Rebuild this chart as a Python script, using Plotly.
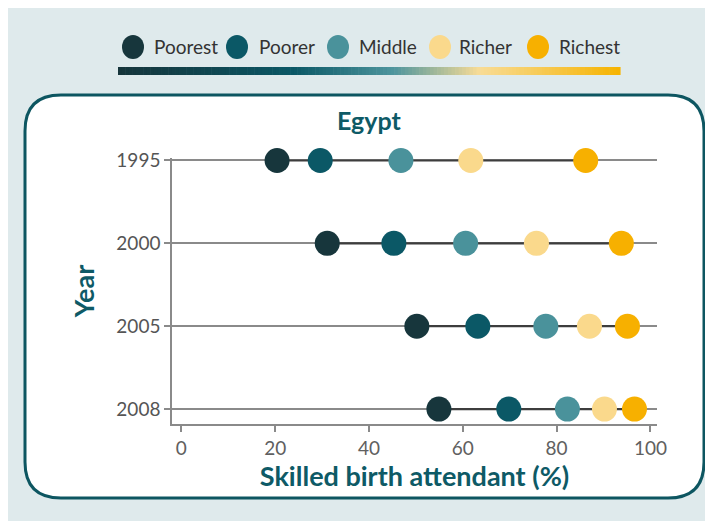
import plotly.graph_objects as go

# ---- data ----
years = ["1995", "2000", "2005", "2008"]
tiers = ["Poorest", "Poorer", "Middle", "Richer", "Richest"]
poorest = [20.4, 31.1, 50.2, 54.9]
poorer = [29.6, 45.3, 63.2, 69.8]
middle = [46.8, 60.6, 77.7, 82.3]
richer = [61.7, 75.7, 87.0, 90.2]
richest = [86.2, 93.8, 95.1, 96.6]
x_ticks = [0, 20, 40, 60, 80, 100]

series = [poorest, poorer, middle, richer, richest]
colors = ["#17363c", "#0b5866", "#4a929b", "#fad98c", "#f7b000"]
teal = "#0e5a66"
ypos = [3, 2, 1, 0]  # 1995 at top

W, H = 713, 521
OFF = 8  # page body margin
L, R, T, B = 172, 657, 158, 424  # plot area in page pixels
FONT = "Lato, 'Open Sans', sans-serif"


def px(x):
    return (x - L) / (R - L)


def py(y):
    return (B - y) / (B - T)


fig = go.Figure()

# connector lines between min and max per year
for i, yv in enumerate(ypos):
    vals = [s[i] for s in series]
    fig.add_trace(go.Scatter(x=[min(vals), max(vals)], y=[yv, yv], mode="lines",
                             line=dict(color="#3d3d3d", width=2.2),
                             hoverinfo="skip", showlegend=False))

for name, vals, c in zip(tiers, series, colors):
    fig.add_trace(go.Scatter(x=vals, y=ypos, mode="markers", name=name,
                             marker=dict(color=c, size=25, line=dict(width=0)),
                             cliponaxis=False, showlegend=False))

shapes = []

# rounded white box
bx0, bx1, by0, by1, rad = 25, 704, 95, 498, 36
rx = rad / (R - L)
ry = rad / (B - T)
X0, X1, Y0, Y1 = px(bx0), px(bx1), py(by0), py(by1)
path = (f"M {X0 + rx},{Y0} L {X1 - rx},{Y0} Q {X1},{Y0} {X1},{Y0 - ry} "
        f"L {X1},{Y1 + ry} Q {X1},{Y1} {X1 - rx},{Y1} "
        f"L {X0 + rx},{Y1} Q {X0},{Y1} {X0},{Y1 + ry} "
        f"L {X0},{Y0 - ry} Q {X0},{Y0} {X0 + rx},{Y0} Z")
shapes.append(dict(type="path", path=path, xref="paper", yref="paper", layer="below",
                   fillcolor="white", line=dict(color="#0d5661", width=3)))


# gradient bar
def hex2rgb(h):
    h = h.lstrip("#")
    return [int(h[i:i + 2], 16) for i in (0, 2, 4)]


stops = [(0.0, "#16353b"), (0.35, "#0b5866"), (0.55, "#4f969e"),
         (0.72, "#f8dc96"), (1.0, "#f6b300")]


def grad(t):
    for (t0, c0), (t1, c1) in zip(stops[:-1], stops[1:]):
        if t0 <= t <= t1:
            f = (t - t0) / (t1 - t0)
            a, b = hex2rgb(c0), hex2rgb(c1)
            return "rgb(%d,%d,%d)" % tuple(round(a[k] + (b[k] - a[k]) * f) for k in range(3))
    return stops[-1][1]


gx0, gx1, gy0, gy1 = 118, 620, 67, 75
n = 140
for k in range(n):
    a = gx0 + (gx1 - gx0) * k / n
    b = gx0 + (gx1 - gx0) * (k + 1) / n + 0.6
    shapes.append(dict(type="rect", xref="paper", yref="paper",
                       x0=px(a), x1=px(b), y0=py(gy0), y1=py(gy1),
                       fillcolor=grad((k + 0.5) / n), line=dict(width=0)))

annotations = []
# legend
leg_cx = [133, 237, 338, 440, 538]
leg_tx = [152, 257, 357, 457, 557]
for name, c, cx, tx in zip(tiers, colors, leg_cx, leg_tx):
    shapes.append(dict(type="circle", xref="paper", yref="paper",
                       x0=px(cx - 11), x1=px(cx + 11), y0=py(35), y1=py(59),
                       fillcolor=c, line=dict(width=0)))
    annotations.append(dict(text=name, xref="paper", yref="paper",
                            x=px(tx), y=py(47), xanchor="left", yanchor="middle",
                            showarrow=False, font=dict(family=FONT, size=19, color="#333333")))

annotations.append(dict(text="<b>Egypt</b>", xref="paper", yref="paper",
                        x=px(369), y=py(120), xanchor="center", yanchor="middle",
                        showarrow=False, font=dict(family=FONT, size=25, color=teal)))

fig.update_layout(
    width=W, height=H,
    margin=dict(l=L - OFF, r=W - (R - OFF), t=T - OFF, b=H - (B - OFF)),
    paper_bgcolor="#dfeaec", plot_bgcolor="rgba(0,0,0,0)",
    shapes=shapes, annotations=annotations, showlegend=False,
    font=dict(family=FONT),
)

fig.update_xaxes(range=[-2, 101.4], tickvals=x_ticks, showgrid=False, zeroline=False,
                 showline=True, linecolor="#8a8a8a", linewidth=1.5,
                 ticks="outside", ticklen=6, tickcolor="#8a8a8a", tickwidth=1.5,
                 tickfont=dict(family=FONT, size=19, color="#606060"),
                 title=dict(text="<b>Skilled birth attendant (%)</b>", standoff=10,
                            font=dict(family=FONT, size=27, color=teal)))

fig.update_yaxes(range=[-0.18, 3.03], tickvals=ypos, ticktext=years,
                 showgrid=True, gridcolor="#8a8a8a", gridwidth=1.5, zeroline=False,
                 showline=True, linecolor="#8a8a8a", linewidth=1.5,
                 ticks="outside", ticklen=6, tickcolor="#8a8a8a", tickwidth=1.5,
                 tickfont=dict(family=FONT, size=19, color="#555555"),
                 title=dict(text="<b>Year</b>", standoff=14,
                            font=dict(family=FONT, size=27, color=teal)))

fig.write_html("out.html")
